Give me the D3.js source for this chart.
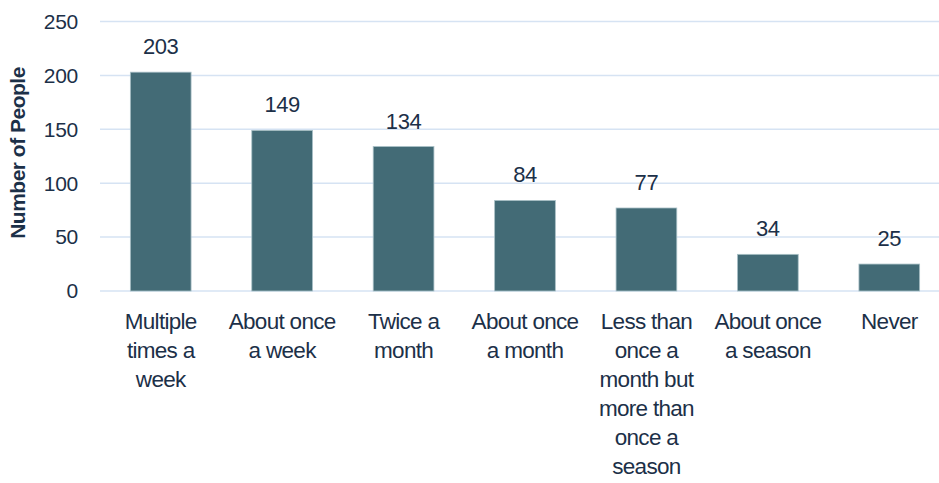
<!DOCTYPE html>
<html><head><meta charset="utf-8">
<script src="https://cdn.jsdelivr.net/npm/d3@7"></script>
<style>
body{margin:0;background:#fff;}
text{font-family:"Liberation Sans",Arial,sans-serif;fill:#1c3048;}
</style></head>
<body><svg id="chart" width="939" height="483"></svg>
<script>
const categories = ["Multiple times a week","About once a week","Twice a month","About once a month","Less than once a month but more than once a season","About once a season","Never"];
const categoryLines = [["Multiple","times a","week"],["About once","a week"],["Twice a","month"],["About once","a month"],["Less than","once a","month but","more than","once a","season"],["About once","a season"],["Never"]];
const values = [203,149,134,84,77,34,25];
const yTicks = [0,50,100,150,200,250];
const yTitle = "Number of People";

const svg = d3.select("#chart");
const x = d3.scaleBand().domain(categories).range([100,950]).paddingInner(0.5).paddingOuter(0.25);
const y = d3.scaleLinear().domain([0,250]).range([291,21.5]);

// gridlines
svg.append("g").selectAll("line").data(yTicks).join("line")
  .attr("x1",100).attr("x2",939)
  .attr("y1",d=>y(d)).attr("y2",d=>y(d))
  .attr("stroke","#d6e3f3").attr("stroke-width",1.5);

// y tick labels
svg.append("g").selectAll("text").data(yTicks).join("text")
  .attr("x",78).attr("y",d=>y(d)).attr("dy","0.35em")
  .attr("text-anchor","end").attr("font-size",21).attr("letter-spacing",-0.3)
  .text(d=>d);

// y title
svg.append("text").attr("transform","translate(25,153) rotate(-90)")
  .attr("text-anchor","middle").attr("font-size",21).attr("font-weight","bold").attr("letter-spacing",-0.5)
  .text(yTitle);

// bars
svg.append("g").selectAll("rect").data(values).join("rect")
  .attr("x",(d,i)=>x(categories[i])).attr("width",x.bandwidth())
  .attr("y",d=>y(d)).attr("height",d=>y(0)-y(d))
  .attr("fill","#436b76").attr("stroke","#a9c0c6").attr("stroke-width",0.8);

// value labels
svg.append("g").selectAll("text").data(values).join("text")
  .attr("x",(d,i)=>x(categories[i])+x.bandwidth()/2).attr("y",d=>y(d)-18)
  .attr("text-anchor","middle").attr("font-size",22).attr("letter-spacing",-0.4)
  .text(d=>d);

// category labels
const cl = svg.append("g").selectAll("text").data(categories).join("text")
  .attr("x",d=>x(d)+x.bandwidth()/2).attr("y",329)
  .attr("text-anchor","middle").attr("font-size",22.5).attr("letter-spacing",-0.7);
cl.each(function(d,i){
  d3.select(this).selectAll("tspan").data(categoryLines[i]).join("tspan")
    .attr("x",x(d)+x.bandwidth()/2).attr("dy",(t,j)=>j===0?0:29).text(t=>t);
});
</script></body></html>
